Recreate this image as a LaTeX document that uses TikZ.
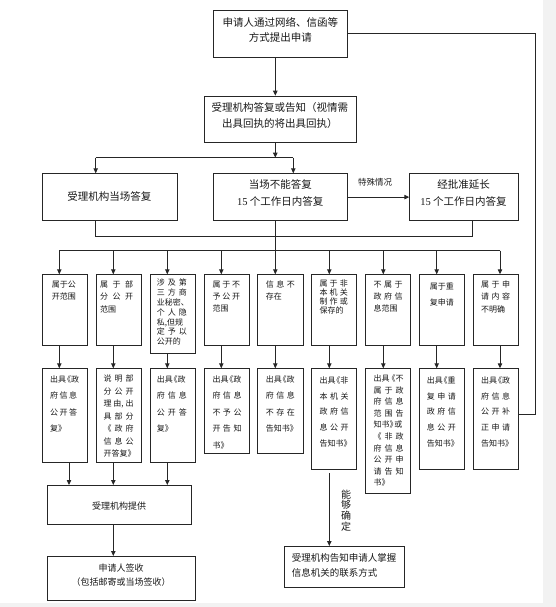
\documentclass[tikz,border=0pt]{standalone}
\usepackage{fontspec}
\setmainfont{Liberation Serif}
\newfontfamily\cjk{Noto Sans CJK SC}
\usetikzlibrary{arrows.meta,calc}
\newcommand\SP[2][29pt]{\makebox[#1][s]{#2}}
\newcommand\ob{\kern-0.4em《}
\newcommand\cb{》\kern-0.4em}
\newcommand\fs[2]{\fontsize{#1}{#2}\selectfont}
\begin{document}
\begin{tikzpicture}[x=1pt,y=-1pt,
  box/.style={draw=black!85,line width=0.9pt,inner sep=0,anchor=north west},
  ln/.style={draw=black!85,line width=0.9pt},
  arr/.style={-{Triangle[length=5pt,width=4.4pt]}},
  ct/.style={anchor=north west,inner sep=0,align=left,text width=29pt,font=\cjk\fs{8}{12.3},text=black!90},
  big/.style={inner sep=0,align=center,font=\cjk\fs{10.5}{15},text=black!90}]
\useasboundingbox (0,0) rectangle (556,607);
\fill[white] (0,0) rectangle (556,607);
\fill[black!5] (543,0) rectangle (556,607);
\fill[black!5] (0,603) rectangle (556,607);

% top boxes
\node[box,minimum width=134.6pt,minimum height=46.7pt] (b1) at (212.7,10) {};
\node[big] (b1t) at (280.3,30.2) {申请人通过网络、信函等\\方式提出申请};
\node[box,minimum width=152.3pt,minimum height=46.6pt] (b2) at (203.7,95.7) {};
\node[big,font=\cjk\fs{10.5}{16}] (b2t) at (279.8,115.3) {受理机构答复或告知（视情需\\出具回执的将出具回执）};
\node[box,minimum width=135pt,minimum height=46.7pt] (b3) at (41.7,173.3) {};
\node[big] (b3t) at (109.4,196.7) {受理机构当场答复};
\node[box,minimum width=134.6pt,minimum height=46.7pt] (b4) at (212.7,173.3) {};
\node[big,font=\cjk\fs{10.5}{16.7}] (b4t) at (280.3,193.3) {当场不能答复\\{\rmfamily 15} 个工作日内答复};
\node[box,minimum width=108.4pt,minimum height=46.7pt] (b5) at (409.3,173.3) {};
\node[big,font=\cjk\fs{10.5}{16.7}] (b5t) at (463.5,193.3) {经批准延长\\{\rmfamily 15} 个工作日内答复};
\node[inner sep=0,font=\cjk\fs{8.5}{10},text=black!90] (lab1) at (375,182.7) {特殊情况};

% row 1 boxes
\node[box,minimum width=45.4pt,minimum height=70.7pt] (r1c1) at (41.7,274.3) {};
\node[box,minimum width=45.4pt,minimum height=70.7pt] (r1c2) at (95.7,274.3) {};
\node[box,minimum width=45.4pt,minimum height=78.4pt] (r1c3) at (149.7,274.3) {};
\node[box,minimum width=45.4pt,minimum height=70.7pt] (r1c4) at (203.7,274.3) {};
\node[box,minimum width=45.4pt,minimum height=70.7pt] (r1c5) at (257.3,274.3) {};
\node[box,minimum width=45.4pt,minimum height=70.7pt] (r1c6) at (311,274.3) {};
\node[box,minimum width=45.4pt,minimum height=70.7pt] (r1c7) at (365,274.3) {};
\node[box,minimum width=45.4pt,minimum height=70.7pt] (r1c8) at (418.7,274.3) {};
\node[box,minimum width=45.4pt,minimum height=70.7pt] (r1c9) at (472.7,274.3) {};

\node[ct] (r1t1) at ([xshift=10pt,yshift=-6.3pt]r1c1.north west) {属于公\\开范围};
\node[ct,text width=33pt] (r1t2) at ([xshift=4.3pt,yshift=-6.3pt]r1c2.north west) {\SP[33pt]{属\hfill 于\hfill 部}\\\SP[33pt]{分\hfill 公\hfill 开}\\范围};
\node[ct,text width=30pt,font=\cjk\fs{8}{9.8}] (r1t3) at ([xshift=7pt,yshift=-4.7pt]r1c3.north west) {\SP[30pt]{涉\hfill 及\hfill 第}\\\SP[30pt]{三\hfill 方\hfill 商}\\业秘密、\\\SP[30pt]{个\hfill 人\hfill 隐}\\私,但规\\\SP[30pt]{定\hfill 予\hfill 以}\\公开的};
\node[ct,text width=27.7pt] (r1t4) at ([xshift=8.6pt,yshift=-6.3pt]r1c4.north west) {\SP[27.7pt]{属\hfill 于\hfill 不}\\\SP[27.7pt]{予\hfill 公\hfill 开}\\范围};
\node[ct] (r1t5) at ([xshift=8.4pt,yshift=-6.3pt]r1c5.north west) {\SP{信\hfill 息\hfill 不}\\存在};
\node[ct,text width=28.3pt,font=\cjk\fs{8}{9.1}] (r1t6) at ([xshift=8.3pt,yshift=-5.3pt]r1c6.north west) {\SP[28.3pt]{属\hfill 于\hfill 非}\\\SP[28.3pt]{本\hfill 机\hfill 关}\\\SP[28.3pt]{制\hfill 作\hfill 或}\\保存的};
\node[ct] (r1t7) at ([xshift=8.3pt,yshift=-6.3pt]r1c7.north west) {\SP{不\hfill 属\hfill 于}\\\SP{政\hfill 府\hfill 信}\\息范围};
\node[ct,anchor=north,align=center,font=\cjk\fs{8}{15.7}] (r1t8) at ([yshift=-8.7pt]r1c8.north) {属于重\\复申请};
\node[ct] (r1t9) at ([xshift=8.3pt,yshift=-6.3pt]r1c9.north west) {\SP{属\hfill 于\hfill 申}\\\SP{请\hfill 内\hfill 容}\\不明确};

% row 2 boxes
\node[box,minimum width=45.4pt,minimum height=93.4pt] (r2c1) at (41.7,368.3) {};
\node[box,minimum width=45.4pt,minimum height=93.4pt] (r2c2) at (95.7,368.3) {};
\node[box,minimum width=45.4pt,minimum height=93.4pt] (r2c3) at (149.7,368.3) {};
\node[box,minimum width=45.4pt,minimum height=85pt] (r2c4) at (203.7,368.3) {};
\node[box,minimum width=45.4pt,minimum height=85pt] (r2c5) at (257.3,368.3) {};
\node[box,minimum width=45.4pt,minimum height=101pt] (r2c6) at (311,368.3) {};
\node[box,minimum width=45.4pt,minimum height=124.4pt] (r2c7) at (365,368.3) {};
\node[box,minimum width=45.4pt,minimum height=101pt] (r2c8) at (418.7,368.3) {};
\node[box,minimum width=45.4pt,minimum height=101pt] (r2c9) at (472.7,368.3) {};

\node[ct,text width=27pt,font=\cjk\fs{8}{16.4}] (r2t1) at ([xshift=8.3pt,yshift=-7.3pt]r2c1.north west) {出具\ob 政\\\SP[27pt]{府\hfill 信\hfill 息}\\\SP[27pt]{公\hfill 开\hfill 答}\\复\cb};
\node[ct,text width=30pt,font=\cjk\fs{8}{12.5}] (r2t2) at ([xshift=7.6pt,yshift=-6.3pt]r2c2.north west) {\SP[30pt]{说\hfill 明\hfill 部}\\\SP[30pt]{分\hfill 公\hfill 开}\\\SP[30pt]{理\hfill 由,\hfill 出}\\\SP[30pt]{具\hfill 部\hfill 分}\\\SP[30pt]{《\hfill 政\hfill 府}\\\SP[30pt]{信\hfill 息\hfill 公}\\开答复\cb};
\node[ct,text width=30pt,font=\cjk\fs{8}{16.4}] (r2t3) at ([xshift=7pt,yshift=-7.3pt]r2c3.north west) {出具\ob 政\\\SP[30pt]{府\hfill 信\hfill 息}\\\SP[30pt]{公\hfill 开\hfill 答}\\复\cb};
\node[ct,font=\cjk\fs{8}{16.4}] (r2t4) at ([xshift=8.6pt,yshift=-7.3pt]r2c4.north west) {出具\ob 政\\\SP{府\hfill 信\hfill 息}\\\SP{不\hfill 予\hfill 公}\\\SP{开\hfill 告\hfill 知}\\书\cb};
\node[ct,font=\cjk\fs{8}{16.4}] (r2t5) at ([xshift=8.4pt,yshift=-7.3pt]r2c5.north west) {出具\ob 政\\\SP{府\hfill 信\hfill 息}\\\SP{不\hfill 存\hfill 在}\\告知书\cb};
\node[ct,font=\cjk\fs{8}{15.8}] (r2t6) at ([xshift=8.3pt,yshift=-8pt]r2c6.north west) {出具\ob 非\\\SP{本\hfill 机\hfill 关}\\\SP{政\hfill 府\hfill 信}\\\SP{息\hfill 公\hfill 开}\\告知书\cb};
\node[ct,text width=30pt,font=\cjk\fs{8}{11.6}] (r2t7) at ([xshift=8.3pt,yshift=-6.3pt]r2c7.north west) {\SP[30pt]{出具\hfill\ob 不}\\\SP[30pt]{属\hfill 于\hfill 政}\\\SP[30pt]{府\hfill 信\hfill 息}\\\SP[30pt]{范\hfill 围\hfill 告}\\知书\cb 或\\\SP[30pt]{《\hfill 非\hfill 政}\\\SP[30pt]{府\hfill 信\hfill 息}\\\SP[30pt]{公\hfill 开\hfill 申}\\\SP[30pt]{请\hfill 告\hfill 知}\\书\cb};
\node[ct,font=\cjk\fs{8}{15.8}] (r2t8) at ([xshift=8pt,yshift=-8pt]r2c8.north west) {出具\ob 重\\\SP{复\hfill 申\hfill 请}\\\SP{政\hfill 府\hfill 信}\\\SP{息\hfill 公\hfill 开}\\告知书\cb};
\node[ct,font=\cjk\fs{8}{15.8}] (r2t9) at ([xshift=8.3pt,yshift=-8pt]r2c9.north west) {出具\ob 政\\\SP{府\hfill 信\hfill 息}\\\SP{公\hfill 开\hfill 补}\\\SP{正\hfill 申\hfill 请}\\告知书\cb};

% bottom boxes
\node[box,minimum width=144pt,minimum height=38.7pt] (p) at (47,485) {};
\node[big,font=\cjk\fs{9}{13}] (pt) at (119,505.7) {受理机构提供};
\node[box,minimum width=147.5pt,minimum height=44.3pt] (s) at (47.2,556) {};
\node[big,font=\cjk\fs{9}{13.4}] (st) at (121,575) {申请人签收\\（包括邮寄或当场签收）};
\node[box,minimum width=120pt,minimum height=41pt] (t) at (284,546) {};
\node[big,anchor=west,align=left,font=\cjk\fs{9.5}{15}] (tt) at (291.7,565.8) {受理机构告知申请人掌握\\信息机关的联系方式};
\node[big,font=\cjk\fs{10}{10.8}] (lab2) at (346,510.5) {能\\够\\确\\定};

% coordinates
\coordinate (j1) at (275.3,157.7);
\coordinate (j1l) at (95.7,157.7);
\coordinate (j1r) at (293.3,157.7);
\coordinate (j2l) at (95.7,236);
\coordinate (j2r) at (472.7,236);
\foreach \i/\x in {1/59.3,2/113.3,3/167.3,4/221.3,5/275.3,6/329.3,7/383.3,8/436.7,9/500}
  \coordinate (d\i) at (\x,250.7);
\coordinate (e1) at (69,480);
\coordinate (a1) at (275.3,80);
\coordinate (fb) at (535.7,414);

% connectors
\draw[ln,arr] (b1.south -| a1) -- (b2.north -| a1);
\draw[ln,arr] (b2.south -| j1) -- (j1);
\draw[ln] (j1l) -- (j1r);
\draw[ln,arr] (j1l) -- (j1l |- b3.north);
\draw[ln,arr] (j1r) -- (j1r |- b4.north);
\draw[ln,arr] (b4.east) -- (b5.west);
\draw[ln] (j2l |- b3.south) -- (j2l) -- (j2r) -- (j2r |- b5.south);
\draw[ln] (b4.south -| d5) -- (d5);
\draw[ln] (d1) -- (d9);
\foreach \i in {1,...,9} {
  \draw[ln,arr] (d\i) -- (d\i |- r1c\i.north);
  \draw[ln,arr] (d\i |- r1c\i.south) -- (d\i |- r2c\i.north);
}
\draw[ln,arr] (e1 |- r2c1.south) -- (e1 |- p.north);
\draw[ln,arr] (d2 |- r2c2.south) -- (d2 |- p.north);
\draw[ln,arr] (d3 |- r2c3.south) -- (d3 |- p.north);
\draw[ln,arr] (d2 |- p.south) -- (d2 |- s.north);
\draw[ln,arr,shorten <=3pt] (d6 |- r2c6.south) -- (d6 |- t.north);
\draw[ln] (b1.east) -| (fb) -- (fb -| r2c9.east);
\end{tikzpicture}
\end{document}
